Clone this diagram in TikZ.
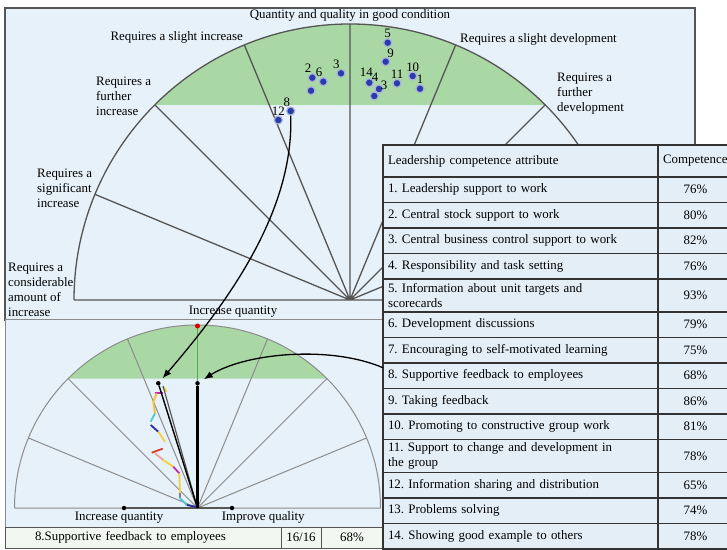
\documentclass[tikz,border=0pt]{standalone}
\usepackage{fontspec}
\setmainfont{Liberation Serif}
\usetikzlibrary{positioning,arrows.meta}
\frenchspacing

\definecolor{panelbg}{HTML}{E7F1F9}
\definecolor{tabbg}{HTML}{E3EEF7}
\definecolor{zone}{HTML}{AAD8A5}
\definecolor{dotblue}{HTML}{2A3CAB}
\definecolor{tabline}{HTML}{333333}
\definecolor{fanline}{HTML}{555555}
\definecolor{thinline}{HTML}{8C8C8C}
\definecolor{rowbg}{HTML}{F2F7F1}
\definecolor{tyellow}{HTML}{F2D13A}
\definecolor{tmagenta}{HTML}{C22BB0}
\definecolor{tcyan}{HTML}{4CC8D8}
\definecolor{tblue}{HTML}{2A2FA0}
\definecolor{tred}{HTML}{D83A2E}
\definecolor{tpink}{HTML}{F0A0A0}

\begin{document}
\begin{tikzpicture}[x=1pt, y=1pt, >={Latex[length=9pt, width=7pt]},
    txt/.style = {inner sep=0pt, align=left, font=\fontsize{12.9}{15}\selectfont},
    dot/.style = {circle, fill=dotblue, draw=dotblue!40, line width=1.2pt, minimum size=8pt, inner sep=0pt, label distance=1.5pt},
    pin/.style = {circle, fill=black, inner sep=0pt, minimum size=4.5pt},
    cell/.style = {draw=tabline, line width=1.6pt, fill=tabbg, outer sep=0pt, inner xsep=5pt, inner ysep=2pt, text width=265pt, align=left, anchor=north west, font=\fontsize{12.9}{15}\selectfont},
    pct/.style = {cell, text width=65pt, align=center},
    bar/.style = {draw=fanline, line width=1pt, fill=rowbg, outer sep=0pt, inner sep=0pt, minimum height=21pt, font=\fontsize{12.9}{15}\selectfont}]
  \useasboundingbox (0,0) rectangle (727,549);

  % upper chart
  \draw[fanline, fill=panelbg, line width=1.3pt] (5,229) rectangle (695,541);
  \coordinate (c1) at (350,249);
  \fill[zone] (154.8,444.2) arc[start angle=135, end angle=45, radius=276] -- cycle;
  \draw[fanline, line width=1.3pt] (74,249) arc[start angle=180, end angle=0, radius=276];
  \draw[fanline, line width=1.3pt] (74,249) -- (626,249)
    (c1) -- ++(22.5:276) (c1) -- ++(45:276) (c1) -- ++(67.5:276) (c1) -- ++(90:276)
    (c1) -- ++(112.5:276) (c1) -- ++(135:276) (c1) -- ++(157.5:276);

  \node[txt] (top) at (350,534) {Quantity and quality in good condition};
  \node[txt, anchor=east] (si) at (243,512) {Requires a slight increase};
  \node[txt, anchor=west] (fi) at (96,452.3) {Requires a\\further\\increase};
  \node[txt, anchor=west] (gi) at (37,361) {Requires a\\significant\\increase};
  \node[txt, anchor=west] (ci) at (8,259.5) {Requires a\\considerable\\amount of\\increase};
  \node[txt, anchor=west] (sd) at (460,510) {Requires a slight development};
  \node[txt, anchor=west] (fd) at (557,455.3) {Requires a\\further\\development};
  \node[txt] (iq) at (233,237.3) {Increase quantity};

  \node[dot, label={[txt]90:1}] (d1) at (420,460.3) {};
  \node[dot, label={[txt]100:2}] (d2) at (312.3,471.3) {};
  \node[dot, label={[txt]105:3}] (d3) at (341,475.7) {};
  \node[dot, label={[txt, xshift=1pt, yshift=3pt]110:4}] (d4) at (379,460) {};
  \node[dot, label={[txt]90:5}, label distance=-1.5pt] (d5) at (387.7,506.3) {};
  \node[dot, label={[txt]100:6}] (d6) at (323.3,467.3) {};
  \node[dot, label={[txt, xshift=3pt, yshift=3pt]45:3}] (d7) at (374.3,453) {};
  \node[dot, label={[txt]95:8}] (d8) at (290.7,438) {};
  \node[dot, label={[txt]70:9}] (d9) at (385.7,487.3) {};
  \node[dot, label={[txt]90:10}] (d10) at (412.7,473) {};
  \node[dot, label={[txt]90:11}] (d11) at (397,465.7) {};
  \node[dot, label={[txt]90:12}] (d12) at (278.3,429) {};
  \node[dot] (d13) at (311,458.3) {};
  \node[dot, label={[txt, xshift=-3pt, yshift=1pt]90:14}] (d14) at (369.3,466.3) {};

  % lower chart
  \draw[thinline, fill=panelbg, line width=1pt] (5,22) rectangle (383,229);
  \coordinate (c2) at (197.5,41);
  \fill[zone] (68.1,170.4) arc[start angle=135, end angle=45, radius=183] -- cycle;
  \draw[thinline, line width=1pt] (14.5,41) arc[start angle=180, end angle=0, radius=183];
  \draw[thinline, line width=1pt] (14.5,41) -- (380.5,41)
    (c2) -- ++(22.5:183) (c2) -- ++(45:183) (c2) -- ++(67.5:183)
    (c2) -- ++(112.5:183) (c2) -- ++(135:183) (c2) -- ++(157.5:183);
  \draw[green!35!gray, line width=1pt] (c2) -- ++(90:183);
  \node[pin, fill=red!85!black, minimum size=5pt] (rp) at (197.5,223) {};
  \node[pin] (bq) at (124,41) {};
  \node[pin] (bv) at (232,41) {};
  \draw[fanline, line width=2pt] (bq) -- (bv);
  \node[txt] (lq2) at (119,31.7) {Increase quantity};
  \node[txt] (lv2) at (263.3,31.7) {Improve quality};

  % answer trace
  \draw[tyellow, line width=1.8pt] (163.3,162.3) -- (166.7,157.3);
  \draw[tmagenta, line width=1.8pt] (155,156.3) -- (163.3,156.3);
  \draw[tyellow!80!orange, line width=1.8pt] (156.7,155.7) -- (153.3,147.3) -- (155,135.7);
  \draw[tcyan, line width=1.8pt] (155,135.7) -- (150.7,127.3);
  \draw[tblue, line width=1.8pt] (150.7,124) -- (158.3,117.3);
  \draw[tyellow, line width=1.8pt] (158.3,117.3) -- (165,107.3);
  \draw[tred, line width=1.8pt] (151.7,96.3) -- (162.7,100.3);
  \draw[tpink, line width=1.8pt] (155,95.7) -- (163.3,89);
  \draw[tyellow, line width=1.8pt] (163.3,89) -- (173.3,82.3);
  \draw[tmagenta, line width=1.8pt] (173.3,82.3) -- (179.3,75.7);
  \draw[tyellow, line width=1.8pt] (179.3,75.7) -- (180,55.7);
  \draw[gray, line width=1.8pt] (180,55.7) -- (180,51);
  \draw[tcyan, line width=1.8pt] (180,51) -- (186.7,44);
  \draw[tblue, line width=1.8pt] (186.7,44) -- (196.7,42);

  \node[pin] (lq) at (158.3,165.7) {};
  \node[pin] (lv) at (197.5,165.7) {};
  \draw[black!65, line width=1.2pt] (c2) -- (163,163);
  \draw[line width=1.4pt] (c2) -- (lq);
  \draw[line width=2.2pt] (c2) -- (lv);

  \node[bar, anchor=north west, minimum width=276pt, text width=216pt, inner xsep=30pt, align=left] (b1) at (5,22) {8.Supportive feedback to employees};
  \node[bar, minimum width=40pt, right=0pt of b1] (b2) {16/16};
  \node[bar, minimum width=62pt, right=0pt of b2] (b3) {68\%};

  % table
  \node[cell, minimum height=32pt] (r0) at (383,404) {Leadership competence attribute};
  \node[cell, minimum height=25.5pt, below=0pt of r0] (r1) {1. Leadership support to work};
  \node[cell, minimum height=25.5pt, below=0pt of r1] (r2) {2. Central stock support to work};
  \node[cell, minimum height=25.5pt, below=0pt of r2] (r3) {3. Central business control support to work};
  \node[cell, minimum height=25.5pt, below=0pt of r3] (r4) {4. Responsibility and task setting};
  \node[cell, minimum height=33pt, below=0pt of r4] (r5) {5. Information about unit targets and\\scorecards};
  \node[cell, minimum height=25.5pt, below=0pt of r5] (r6) {6. Development discussions};
  \node[cell, minimum height=25.5pt, below=0pt of r6] (r7) {7. Encouraging to self-motivated learning};
  \node[cell, minimum height=25.5pt, below=0pt of r7] (r8) {8. Supportive feedback to employees};
  \node[cell, minimum height=25.5pt, below=0pt of r8] (r9) {9. Taking feedback};
  \node[cell, minimum height=25.5pt, below=0pt of r9] (r10) {10. Promoting to constructive group work};
  \node[cell, minimum height=33pt, below=0pt of r10] (r11) {11. Support to change and development in\\the group};
  \node[cell, minimum height=25.5pt, below=0pt of r11] (r12) {12. Information sharing and distribution};
  \node[cell, minimum height=25.5pt, below=0pt of r12] (r13) {13. Problems solving};
  \node[cell, minimum height=25.5pt, below=0pt of r13] (r14) {14. Showing good example to others};

  \node[pct, align=left, minimum height=32pt, right=0pt of r0] (p0) {Competence};
  \node[pct, minimum height=25.5pt, right=0pt of r1] (p1) {76\%};
  \node[pct, minimum height=25.5pt, right=0pt of r2] (p2) {80\%};
  \node[pct, minimum height=25.5pt, right=0pt of r3] (p3) {82\%};
  \node[pct, minimum height=25.5pt, right=0pt of r4] (p4) {76\%};
  \node[pct, minimum height=33pt, right=0pt of r5] (p5) {93\%};
  \node[pct, minimum height=25.5pt, right=0pt of r6] (p6) {79\%};
  \node[pct, minimum height=25.5pt, right=0pt of r7] (p7) {75\%};
  \node[pct, minimum height=25.5pt, right=0pt of r8] (p8) {68\%};
  \node[pct, minimum height=25.5pt, right=0pt of r9] (p9) {86\%};
  \node[pct, minimum height=25.5pt, right=0pt of r10] (p10) {81\%};
  \node[pct, minimum height=33pt, right=0pt of r11] (p11) {78\%};
  \node[pct, minimum height=25.5pt, right=0pt of r12] (p12) {65\%};
  \node[pct, minimum height=25.5pt, right=0pt of r13] (p13) {74\%};
  \node[pct, minimum height=25.5pt, right=0pt of r14] (p14) {78\%};

  % links
  \draw[->, line width=1.3pt, shorten >=4pt] (d8.south) .. controls (294,339) and (230,249) .. (lq);
  \draw[->, line width=1.3pt, shorten >=5pt] ([yshift=8pt]r8.west) .. controls (330,204) and (245,196) .. (lv);
\end{tikzpicture}
\end{document}
